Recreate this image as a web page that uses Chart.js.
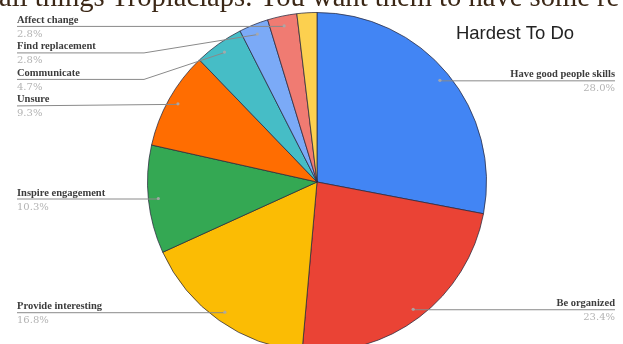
<!DOCTYPE html>
<html>
<head>
<meta charset="utf-8">
<script src="https://cdn.jsdelivr.net/npm/chart.js@4"></script>
<style>
  html, body { margin: 0; padding: 0; background: #fff; overflow: hidden; width: 623px; height: 344px; }
  #wrap { position: relative; width: 623px; height: 366px; }
  #top-text {
    position: absolute; left: -1px; top: -18px; white-space: nowrap; line-height: 30px;
    font-family: "Liberation Serif", serif; font-size: 28.6px; color: #3b2716;
  }
</style>
</head>
<body>
<div id="wrap">
  <canvas id="pie-chart" width="623" height="366"></canvas>
  <div id="top-text">all things Tropiaclaps. You want them to have some re</div>
</div>
<script>
const categories = [
  "Have good people skills",
  "Be organized",
  "Provide interesting",
  "Inspire engagement",
  "Unsure",
  "Communicate",
  "Find replacement",
  "Affect change",
  ""
];
const shares = [28.0, 23.4, 16.8, 10.3, 9.3, 4.7, 2.8, 2.8, 1.9];
const sliceColors = ["#4285f4", "#ea4335", "#fbbc04", "#34a853", "#ff6d01", "#46bdc6", "#7baaf7", "#f07b72", "#fcd04f"];
const chartTitle = "Hardest To Do";

// leader lines + labels, drawn the way the sheets chart does it
const sideLabels = {
  id: "sideLabels",
  afterDatasetsDraw(chart) {
    const ctx = chart.ctx;
    const arcs = chart.getDatasetMeta(0).data;
    const total = shares.reduce((a, b) => a + b, 0);
    const left = [], right = [];

    arcs.forEach((arc, i) => {
      if (!categories[i]) return;
      const mid = (arc.startAngle + arc.endAngle) / 2;
      const r = arc.outerRadius - 10;
      const pt = { i, x: arc.x + Math.cos(mid) * r, y: arc.y + Math.sin(mid) * r };
      (Math.cos(mid) >= 0 ? right : left).push(pt);
    });

    const spread = list => {
      list.sort((a, b) => a.y - b.y);
      let prev = -Infinity;
      list.forEach(p => { p.ly = Math.max(p.y, prev + 26.5); prev = p.ly; });
    };
    spread(left);
    spread(right);

    ctx.save();
    const drawDot = p => {
      ctx.fillStyle = "rgba(170,170,170,0.9)";
      ctx.beginPath();
      ctx.arc(p.x, p.y, 1.6, 0, Math.PI * 2);
      ctx.fill();
    };

    left.forEach(p => {
      ctx.strokeStyle = "#8a8a8a";
      ctx.lineWidth = 1;
      ctx.beginPath();
      ctx.moveTo(17, p.ly + 0.5);
      if (Math.abs(p.ly - p.y) > 2) {
        ctx.lineTo(144, p.ly + 0.5);
      }
      ctx.lineTo(p.x, p.y + 0.5);
      ctx.stroke();
      drawDot(p);
      ctx.textAlign = "left";
      ctx.fillStyle = "#3c3c3c";
      ctx.font = "bold 10.5px 'Liberation Serif', serif";
      ctx.fillText(categories[p.i], 17, p.ly - 3);
      ctx.fillStyle = "#b4b4b4";
      ctx.font = "10px 'DejaVu Serif', serif";
      ctx.fillText((shares[p.i] / total * 100).toFixed(1) + "%", 17, p.ly + 11);
    });

    right.forEach(p => {
      ctx.strokeStyle = "#8a8a8a";
      ctx.lineWidth = 1;
      ctx.beginPath();
      ctx.moveTo(p.x, p.y + 0.5);
      if (Math.abs(p.ly - p.y) > 2) ctx.lineTo(480, p.ly + 0.5);
      ctx.lineTo(615, p.ly + 0.5);
      ctx.stroke();
      drawDot(p);
      ctx.textAlign = "right";
      ctx.fillStyle = "#3c3c3c";
      ctx.font = "bold 10.5px 'Liberation Serif', serif";
      ctx.fillText(categories[p.i], 615, p.ly - 3);
      ctx.fillStyle = "#b4b4b4";
      ctx.font = "10px 'DejaVu Serif', serif";
      ctx.fillText((shares[p.i] / total * 100).toFixed(1) + "%", 615, p.ly + 11);
    });

    ctx.textAlign = "center";
    ctx.fillStyle = "#222";
    ctx.font = "18.5px 'Liberation Sans', Arial, sans-serif";
    ctx.fillText(chartTitle, 515, 39);
    ctx.restore();
  }
};

const ctx = document.getElementById("pie-chart").getContext("2d");
new Chart(ctx, {
  type: "pie",
  data: {
    labels: categories,
    datasets: [{
      data: shares,
      backgroundColor: sliceColors,
      borderColor: "rgba(40,40,60,0.75)",
      borderWidth: 1
    }]
  },
  options: {
    responsive: false,
    animation: false,
    layout: { padding: { left: 147, right: 136, top: 12, bottom: 14 } },
    plugins: {
      legend: { display: false },
      tooltip: { enabled: false }
    }
  },
  plugins: [sideLabels]
});
</script>
</body>
</html>
